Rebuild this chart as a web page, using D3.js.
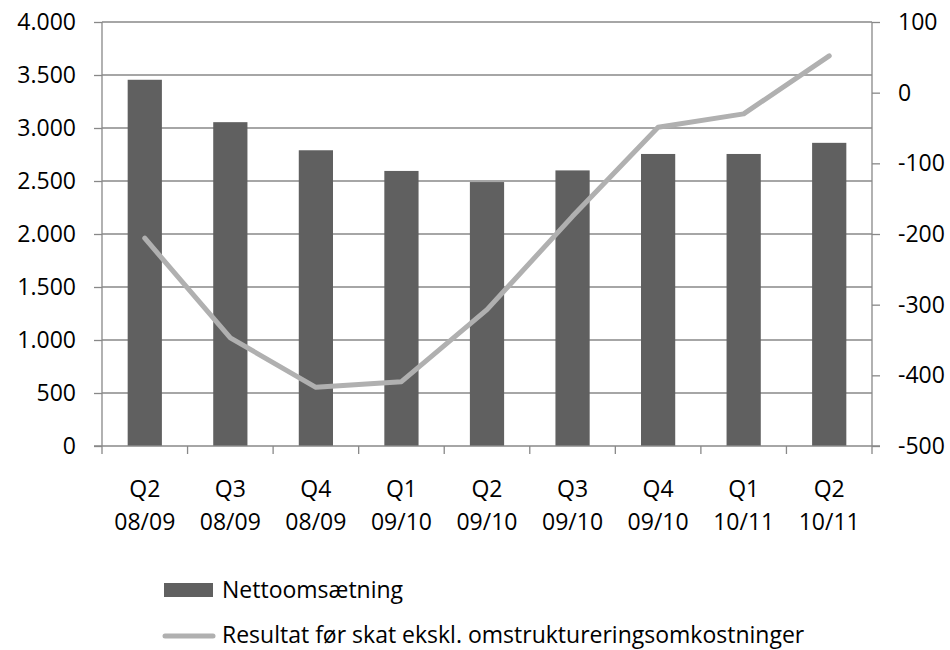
<!DOCTYPE html>
<html>
<head>
<meta charset="utf-8">
<script src="https://cdn.jsdelivr.net/npm/d3@7"></script>
<style>
  body { margin: 0; background: #fff; }
  text { font-family: "Open Sans", sans-serif; fill: #000; }
</style>
</head>
<body>
<script>
// quarters and values
var quarters = ["Q2 08/09", "Q3 08/09", "Q4 08/09", "Q1 09/10", "Q2 09/10", "Q3 09/10", "Q4 09/10", "Q1 10/11", "Q2 10/11"];
var nettoomsaetning = [3455, 3055, 2790, 2595, 2490, 2600, 2755, 2755, 2860];
var resultat = [-206, -347, -417, -409, -307, -175, -49, -30, 52];
var leftTicks = [0, 500, 1000, 1500, 2000, 2500, 3000, 3500, 4000];
var rightTicks = [-500, -400, -300, -200, -100, 0, 100];
var seriesNames = ["Nettoomsætning", "Resultat før skat ekskl. omstruktureringsomkostninger"];

var width = 950, height = 650;
var plotLeft = 102, plotRight = 872, plotTop = 22, plotBottom = 446;
var fontSize = "23px";

var svg = d3.select("body").append("svg")
  .attr("width", width)
  .attr("height", height);

var x = d3.scaleBand().domain(quarters).range([plotLeft, plotRight]).padding(0);
var yL = d3.scaleLinear().domain([0, 4000]).range([plotBottom, plotTop]);
var yR = d3.scaleLinear().domain([-500, 100]).range([plotBottom, plotTop]);

// danish style thousands separator, plain hyphen for minus
var fmt = function (d) { return String(d).replace(/\B(?=(\d{3})+(?!\d))/g, "."); };

// gridlines
svg.selectAll("line.grid")
  .data(leftTicks.slice(1))
  .enter().append("line")
  .attr("class", "grid")
  .attr("x1", plotLeft).attr("x2", plotRight)
  .attr("y1", function (d) { return yL(d); })
  .attr("y2", function (d) { return yL(d); })
  .attr("stroke", "#888").attr("stroke-width", 1.3);

// bars
var barW = x.bandwidth() * 0.4;
svg.selectAll("rect.bar")
  .data(nettoomsaetning)
  .enter().append("rect")
  .attr("class", "bar")
  .attr("x", function (d, i) { return x(quarters[i]) + (x.bandwidth() - barW) / 2; })
  .attr("y", function (d) { return yL(d); })
  .attr("width", barW)
  .attr("height", function (d) { return plotBottom - yL(d); })
  .attr("fill", "#606060");

// axes
var axisColor = "#888";
var gL = svg.append("g").attr("transform", "translate(" + plotLeft + ",0)")
  .call(d3.axisLeft(yL).tickValues(leftTicks).tickFormat(fmt).tickSize(8).tickPadding(18));
var gR = svg.append("g").attr("transform", "translate(" + plotRight + ",0)")
  .call(d3.axisRight(yR).tickValues(rightTicks).tickFormat(fmt).tickSize(8).tickPadding(18));

[gL, gR].forEach(function (g) {
  g.selectAll("path, line").attr("stroke", axisColor).attr("stroke-width", 1.3);
  g.select("path").attr("d", "M0," + plotBottom + "V" + plotTop);
  g.selectAll("text").style("font-size", fontSize).attr("fill", "#000");
});
svg.append("line")
  .attr("x1", plotLeft - 8).attr("x2", plotRight + 8)
  .attr("y1", plotBottom).attr("y2", plotBottom)
  .attr("stroke", axisColor).attr("stroke-width", 1.3);

// category boundary ticks
var bounds = quarters.map(function (q) { return x(q); }).concat([plotRight]);
svg.selectAll("line.xtick")
  .data(bounds)
  .enter().append("line")
  .attr("x1", function (d) { return d; }).attr("x2", function (d) { return d; })
  .attr("y1", plotBottom).attr("y2", plotBottom + 8)
  .attr("stroke", axisColor).attr("stroke-width", 1.3);

// category labels on two lines
var lab = svg.selectAll("text.cat")
  .data(quarters)
  .enter().append("text")
  .attr("class", "cat")
  .attr("text-anchor", "middle")
  .style("font-size", fontSize);
lab.append("tspan")
  .attr("x", function (d) { return x(d) + x.bandwidth() / 2; })
  .attr("y", 497)
  .text(function (d) { return d.split(" ")[0]; });
lab.append("tspan")
  .attr("x", function (d) { return x(d) + x.bandwidth() / 2; })
  .attr("y", 530)
  .text(function (d) { return d.split(" ")[1]; });

// line series
var line = d3.line()
  .x(function (d, i) { return x(quarters[i]) + x.bandwidth() / 2; })
  .y(function (d) { return yR(d); });
svg.append("path")
  .datum(resultat)
  .attr("d", line)
  .attr("fill", "none")
  .attr("stroke", "#b0b0b0")
  .attr("stroke-width", 5)
  .attr("stroke-linecap", "round")
  .attr("stroke-linejoin", "round");

// legend
svg.append("rect")
  .attr("x", 164).attr("y", 583).attr("width", 49).attr("height", 14)
  .attr("fill", "#606060");
svg.append("text")
  .attr("x", 222).attr("y", 598)
  .style("font-size", fontSize)
  .text(seriesNames[0]);
svg.append("line")
  .attr("x1", 165).attr("x2", 213).attr("y1", 636).attr("y2", 636)
  .attr("stroke", "#b0b0b0").attr("stroke-width", 5).attr("stroke-linecap", "round");
svg.append("text")
  .attr("x", 222).attr("y", 643)
  .style("font-size", fontSize)
  .text(seriesNames[1]);
</script>
</body>
</html>
